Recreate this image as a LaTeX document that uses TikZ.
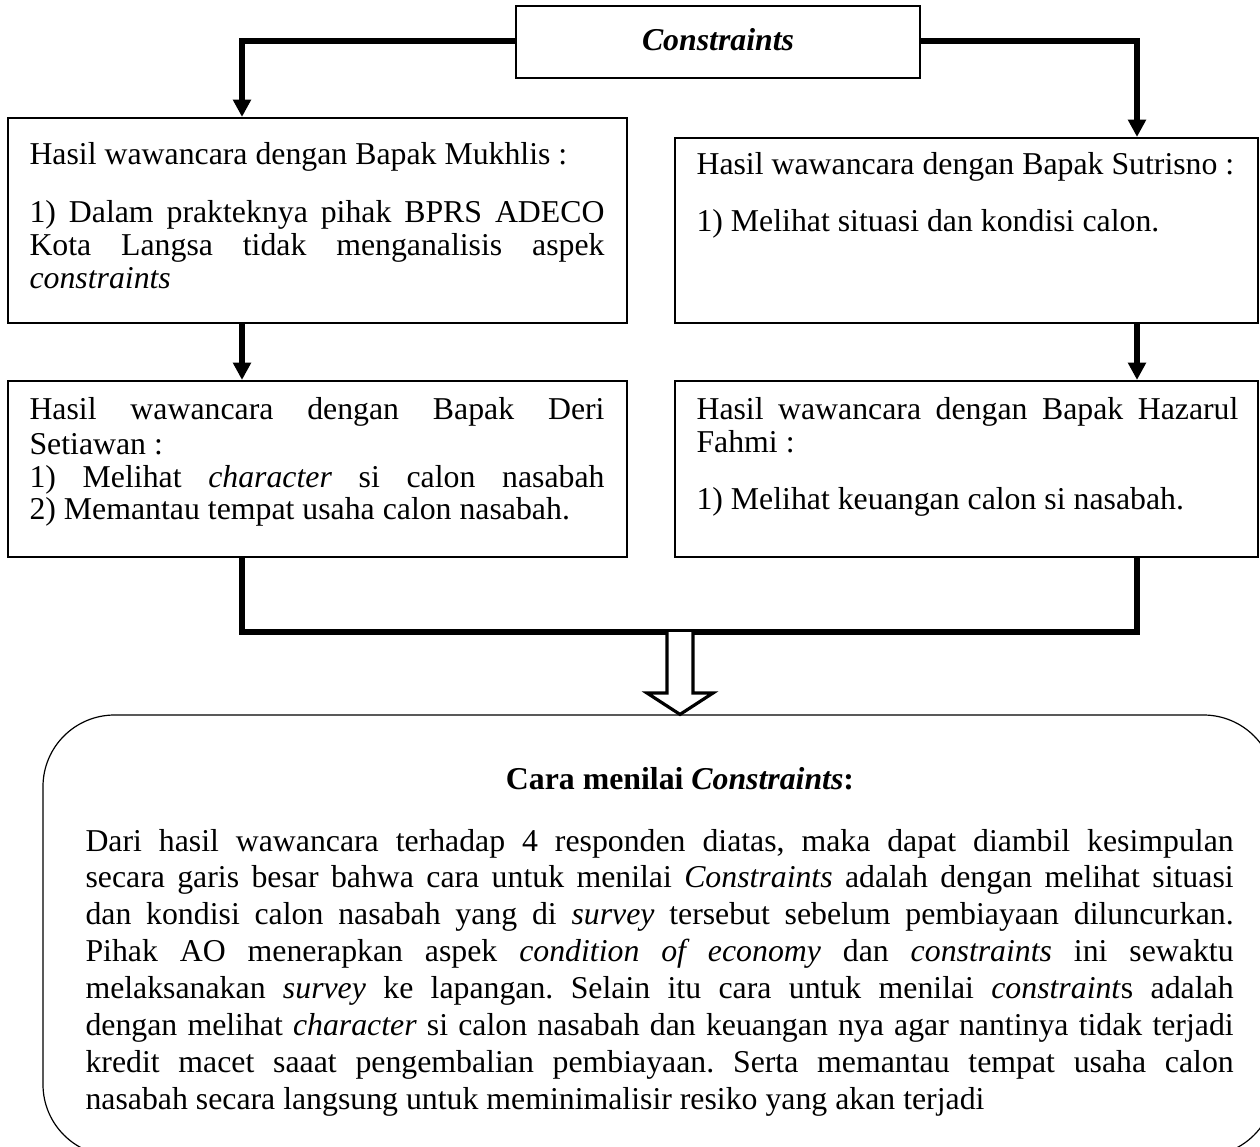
\documentclass[tikz,border=0pt]{standalone}
\usepackage{fontspec}
\setmainfont{Liberation Serif}
\usetikzlibrary{arrows.meta,fit,calc}
\frenchspacing
\begin{document}
\begin{tikzpicture}[x=0.3774pt,y=-0.3774pt,
  every node/.style={font=\fontsize{12}{14}\selectfont},
  box/.style={draw, line width=0.8pt, inner sep=0pt},
  conn/.style={line width=2.1pt},
  arr/.style={conn, -{Triangle[width=6.5pt,length=6.5pt]}},
  tl/.style={anchor=base west, inner sep=0pt},
  jl/.style={anchor=base west, inner sep=0pt, text width=#1, align=justify,
    execute at begin node={\frenchspacing\parfillskip=0pt\hyphenpenalty=10000 }},
]
\useasboundingbox (0,0) rectangle (1260,1146);

% boxes
\node[box, fit={(516,6) (920,78)}] (top) {};
\node[font=\fontsize{12}{14}\selectfont\bfseries\itshape, inner sep=0pt, anchor=base] (toptxt) at ($(top.center)+(0,8)$) {Constraints};
\node[box, fit={(8,118) (627,323)}] (muk) {};
\node[box, fit={(675,138) (1258,323)}] (sut) {};
\node[box, fit={(8,381) (627,557)}] (deri) {};
\node[box, fit={(675,381) (1258,557)}] (haz) {};
\node[draw, line width=0.45pt, inner sep=0pt, rounded corners=27pt, fit={(43,715) (1275,1156)}] (cara) {};

% connectors
\coordinate (lx) at (242,0);
\coordinate (rx) at (1137,0);
\coordinate (join) at (680,632);
\draw[arr] (top.west |- 0,41) -| (lx |- muk.north);
\draw[arr] (top.east |- 0,41) -| (rx |- sut.north);
\draw[arr] (lx |- muk.south) -- (lx |- deri.north);
\draw[arr] (rx |- sut.south) -- (rx |- haz.north);
\draw[conn] (lx |- deri.south) |- (join) -| (rx |- haz.south);
% hollow arrow
\draw[line width=1.2pt, line join=miter, fill=white]
  ($(join)+(-13,0)$) -- ($(join)+(-13,61)$) -- ($(join)+(-33,61)$) -- (join |- cara.north)
  -- ($(join)+(33,61)$) -- ($(join)+(13,61)$) -- ($(join)+(13,0)$);

% Mukhlis
\node[tl] (m1) at (29,164) {Hasil wawancara dengan Bapak Mukhlis :};
\node[jl=217pt] (m2) at (29,222) {1) Dalam prakteknya pihak BPRS ADECO};
\node[jl=217pt] (m3) at (29,255) {Kota Langsa tidak menganalisis aspek};
\node[tl] (m4) at (29,288) {\textit{constraints}};
% Sutrisno
\node[tl] (s1) at (696,174) {Hasil wawancara dengan Bapak Sutrisno :};
\node[tl] (s2) at (696,231) {1) Melihat situasi dan kondisi calon.};
% Deri
\node[jl=217pt] (d1) at (29,419) {Hasil wawancara dengan Bapak Deri};
\node[tl] (d2) at (29,454) {Setiawan :};
\node[jl=217pt] (d3) at (29,487) {1) Melihat \textit{character} si calon nasabah};
\node[tl] (d4) at (29,519) {2) Memantau tempat usaha calon nasabah.};
% Hazarul
\node[jl=204.5pt] (h1) at (696,419) {Hasil wawancara dengan Bapak Hazarul};
\node[tl] (h2) at (696,452) {Fahmi :};
\node[tl] (h3) at (696,509) {1) Melihat keuangan calon si nasabah.};

% conclusion
\node[anchor=base, inner sep=0pt] (ct) at (680,789) {\textbf{Cara menilai \textit{Constraints}:}};
\node[jl=433.3pt] (p1) at (85,851.0) {Dari hasil wawancara terhadap 4 responden diatas, maka dapat diambil kesimpulan};
\node[jl=433.3pt] (p2) at (85,887.9) {secara garis besar bahwa cara untuk menilai \textit{Constraints} adalah dengan melihat situasi};
\node[jl=433.3pt] (p3) at (85,924.8) {dan kondisi calon nasabah yang di \textit{survey} tersebut sebelum pembiayaan diluncurkan.};
\node[jl=433.3pt] (p4) at (85,961.7) {Pihak AO menerapkan aspek \textit{condition of economy} dan \textit{constraints} ini sewaktu};
\node[jl=433.3pt] (p5) at (85,998.6) {melaksanakan \textit{survey} ke lapangan. Selain itu cara untuk menilai \textit{constraint}s adalah};
\node[jl=433.3pt] (p6) at (85,1035.5) {dengan melihat \textit{character} si calon nasabah dan keuangan nya agar nantinya tidak terjadi};
\node[jl=433.3pt] (p7) at (85,1072.4) {kredit macet saaat pengembalian pembiayaan. Serta memantau tempat usaha calon};
\node[tl] (p8) at (85,1109.3) {nasabah secara langsung untuk meminimalisir resiko yang akan terjadi};
\end{tikzpicture}
\end{document}
